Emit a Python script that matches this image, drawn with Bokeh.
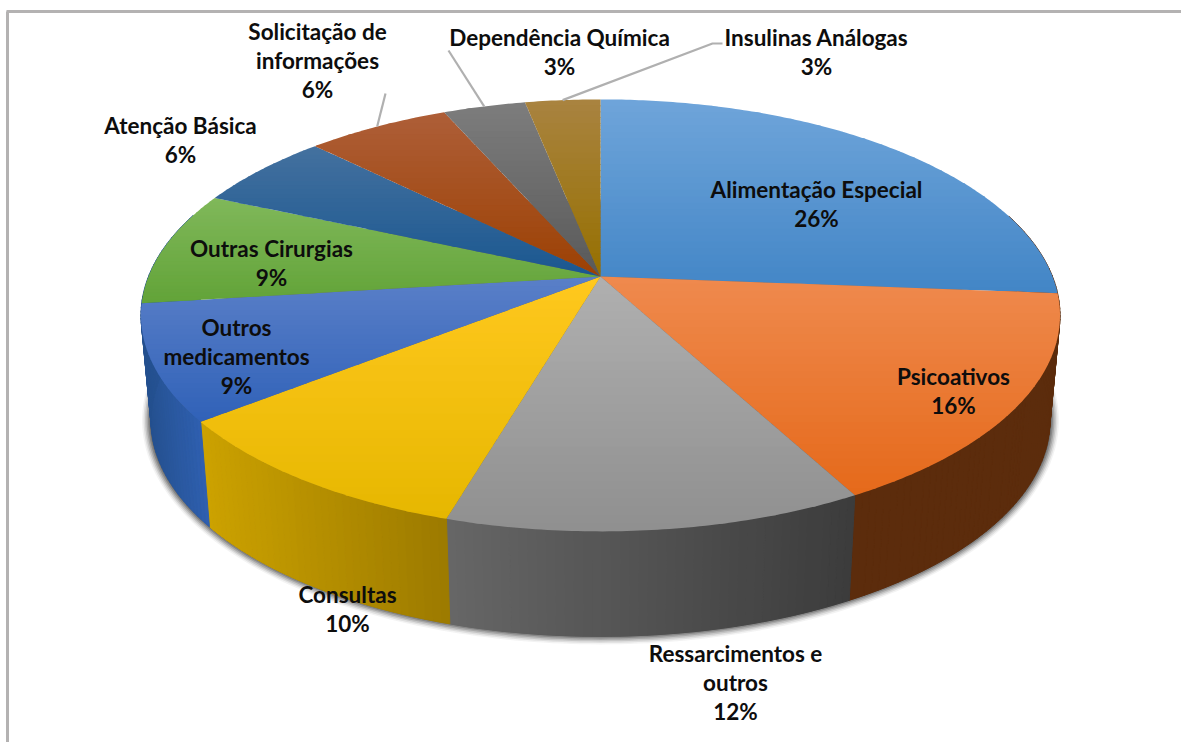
import math
from bokeh.plotting import figure
from bokeh.models import ColumnDataSource
from bokeh.core.properties import value
from bokeh.embed import file_html
from bokeh.resources import INLINE

# ---- data (clockwise from 12 o'clock)
labels = ["Alimentação Especial", "Psicoativos", "Ressarcimentos e\noutros", "Consultas",
          "Outros\nmedicamentos", "Outras Cirurgias", "Atenção Básica",
          "Solicitação de\ninformações", "Dependência Química", "Insulinas Análogas"]
percent_labels = ["26%", "16%", "12%", "10%", "9%", "9%", "6%", "6%", "3%", "3%"]
values = [26.25, 15.9, 12.4, 9.85, 8.6, 8.6, 5.8, 6.0, 3.45, 3.15]

# ---- styles
top_from = ["#6fa5da", "#ef8a4e", "#b0b0b0", "#ffc81e", "#5a7fc8", "#80b85a", "#44719f", "#ae5f38", "#7d7d7d", "#a98340"]
top_to = ["#4285c6", "#e5691a", "#8f8f8f", "#e6b700", "#3062b8", "#62a338", "#1a5790", "#9c4003", "#595959", "#967000"]
wall_left = ["#5c2c0c", "#5c2c0c", "#666666", "#cca200", "#24508f", "#24508f", "#24508f", "#5c2c0c", "#404040", "#5c2c0c"]
wall_right = ["#5c2c0c", "#5c2c0c", "#3c3c3c", "#9c7a00", "#2f60b0", "#2f60b0", "#2f60b0", "#5c2c0c", "#404040", "#5c2c0c"]

# ---- layout (screen pixels)
W, H = 1181, 742
CX, CY = 600.0, 276.0
A, B, K = 452.0, 209.0, 0.18
DEPTH, SHRINK = 105.0, 0.978
label_pos = [(816, 189), (953, 376), (735, 653), (347, 594), (236, 327),
             (271, 248), (180, 125), (317, 31), (559, 37), (816, 37)]
LINE_H = 29
FONT = "Lato"
FONT_SIZE = "22.5px"
leaders = {7: [(385, 93)], 8: [(448, 50)], 9: [(722, 43), (712, 43)]}


def hex2rgb(h):
    return tuple(int(h[i:i + 2], 16) for i in (1, 3, 5))


def mix(a, b, f):
    f = max(0.0, min(1.0, f))
    ra, rb = hex2rgb(a), hex2rgb(b)
    return "#%02x%02x%02x" % tuple(round(x + (y - x) * f) for x, y in zip(ra, rb))


def rim(t):
    """Top-face rim point for clockwise angle t from the top (perspective view of a circle)."""
    u, v = math.sin(t), math.cos(t)
    w = 1 + K * v
    return CX + A * u / w, CY - B * v / w


def low(pt):
    return CX + SHRINK * (pt[0] - CX), pt[1] + DEPTH


def clip_band(poly, y0, y1):
    def clip(points, keep, cross):
        out = []
        for i, p in enumerate(points):
            q = points[(i + 1) % len(points)]
            if keep(p):
                out.append(p)
            if keep(p) != keep(q):
                f = (cross - p[1]) / (q[1] - p[1])
                out.append((p[0] + f * (q[0] - p[0]), cross))
        return out
    res = clip(poly, lambda p: p[1] >= y0, y0)
    return clip(res, lambda p: p[1] <= y1, y1) if res else res


total = sum(values)
edges = [0.0]
for val in values:
    edges.append(edges[-1] + val / total * 2 * math.pi)

p = figure(width=W, height=H, x_range=(0, W), y_range=(H, 0),
           output_backend="svg", toolbar_location=None, min_border=0,
           background_fill_color="white", border_fill_color="white", outline_line_color=None)
p.xaxis.visible = False
p.yaxis.visible = False
p.grid.visible = False

# frame
p.line([7, 7], [H, 11], line_color="#b4b2b2", line_width=3)
p.line([6, W], [11, 11], line_color="#b4b2b2", line_width=3)

# soft shadow under the wall
ring = [low(rim(2 * math.pi * i / 360)) for i in range(360)]
cxs = sum(q[0] for q in ring) / len(ring)
cys = sum(q[1] for q in ring) / len(ring)
rx = max(q[0] for q in ring) - cxs
ry = max(q[1] for q in ring) - cys
for d, alpha in zip([9, 7.5, 6, 4.5, 3, 1.5], [0.06, 0.1, 0.15, 0.2, 0.27, 0.35]):
    sx, sy = (rx + d) / rx, (ry + d) / ry
    p.patch([cxs + (q[0] - cxs) * sx for q in ring],
            [cys + (q[1] - cys) * sy - 1 for q in ring],
            fill_color="#333333", fill_alpha=alpha, line_color=None)

# side wall
wx, wy, wc = [], [], []
for i in range(len(values)):
    a0, a1 = edges[i], edges[i + 1]
    n = max(3, int((a1 - a0) * 60))
    ts = [a0 + (a1 - a0) * j / n for j in range(n + 1)]
    xs = [rim(t)[0] for t in ts]
    x_lo, x_hi = min(xs), max(xs)
    for j in range(n):
        if math.cos(ts[j]) > 0.3 and math.cos(ts[j + 1]) > 0.3:
            continue
        q0, q1 = rim(ts[j]), rim(ts[j + 1])
        r0, r1 = low(q0), low(q1)
        wx.append([q0[0], q1[0], r1[0], r0[0]])
        wy.append([q0[1], q1[1], r1[1], r0[1]])
        wc.append(mix(wall_left[i], wall_right[i], ((q0[0] + q1[0]) / 2 - x_lo) / max(1, x_hi - x_lo)))
p.patches(wx, wy, fill_color=wc, line_color=wc, line_width=1)

# top face, one slice at a time, in horizontal colour bands
tx, ty, tc = [], [], []
for i in range(len(values)):
    a0, a1 = edges[i], edges[i + 1]
    n = max(4, int((a1 - a0) * 90))
    poly = [(CX, CY)] + [rim(a0 + (a1 - a0) * j / n) for j in range(n + 1)]
    y_lo = min(q[1] for q in poly)
    y_hi = max(q[1] for q in poly)
    bands = 30
    h = (y_hi - y_lo) / bands
    for b in range(bands):
        y0 = y_lo + b * h
        piece = clip_band(poly, y0, y0 + h + 0.8)
        if len(piece) >= 3:
            tx.append([q[0] for q in piece])
            ty.append([q[1] for q in piece])
            tc.append(mix(top_from[i], top_to[i], (b + 0.5) / bands))
p.patches(tx, ty, fill_color=tc, line_color=None)

# leader lines
for i, pts in leaders.items():
    end = rim((edges[i] + edges[i + 1]) / 2)
    p.line([q[0] for q in pts] + [end[0]], [q[1] for q in pts] + [end[1]],
           line_color="#b0b0b0", line_width=2.2)

# labels
lx, ly, lt = [], [], []
for i, lab in enumerate(labels):
    for k, line in enumerate(lab.split("\n") + [percent_labels[i]]):
        lx.append(label_pos[i][0])
        ly.append(label_pos[i][1] + k * LINE_H)
        lt.append(line)
p.text(x="x", y="y", text="t", source=ColumnDataSource(dict(x=lx, y=ly, t=lt)),
       text_font=value(FONT), text_font_size=value(FONT_SIZE), text_font_style="bold",
       text_color="#0d0d0d", text_align="center", text_baseline="middle")

open("out.html", "w").write(file_html(p, INLINE))
